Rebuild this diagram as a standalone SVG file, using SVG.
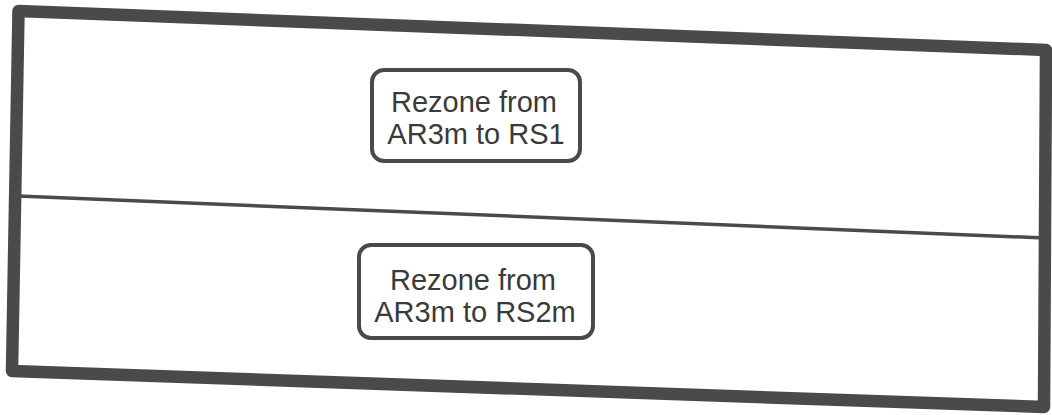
<svg xmlns="http://www.w3.org/2000/svg" width="1052" height="415" viewBox="0 0 1052 415">
<style>
.frame{fill:none;stroke:#4a4a4a;stroke-linejoin:round}
.box{fill:#fff;stroke:#4a4a4a;stroke-width:4}
.lbl{font-family:"Liberation Sans",Arial,sans-serif;font-size:29px;fill:#3a3a3a;text-anchor:middle}
</style>
<rect width="1052" height="415" fill="#fff"/>
<g id="parcel">
<polygon class="frame" stroke-width="12.5" points="18.5,11 1046,50 1044,407 12,371"/>
<line class="frame" stroke-width="3.5" x1="18" y1="196" x2="1045" y2="238"/>
</g>
<g id="zone1">
<rect class="box" x="372" y="70" width="208" height="91" rx="12"/>
<text class="lbl" x="474" y="112">Rezone from</text>
<text class="lbl" x="476" y="144">AR3m to RS1</text>
</g>
<g id="zone2">
<rect class="box" x="359" y="245" width="234" height="93" rx="12"/>
<text class="lbl" x="473" y="290">Rezone from</text>
<text class="lbl" x="475" y="322">AR3m to RS2m</text>
</g>
<g id="connectors"></g>
</svg>
